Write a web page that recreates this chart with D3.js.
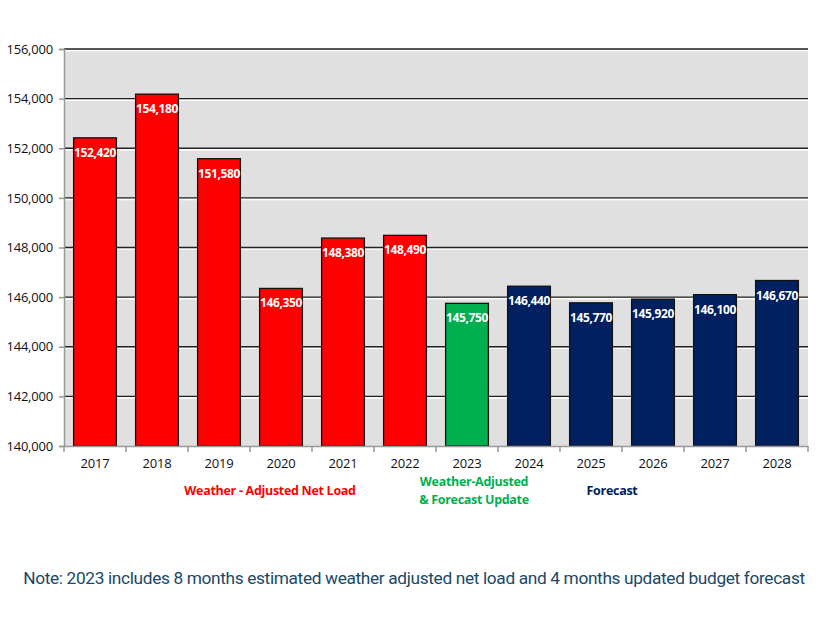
<!DOCTYPE html>
<html><head><meta charset="utf-8">
<script src="https://cdn.jsdelivr.net/npm/d3@7"></script>
<style>body{margin:0;background:#fff}svg{display:block}</style>
</head><body><svg id="c" width="826" height="620"></svg>
<script>
const years = ["2017","2018","2019","2020","2021","2022","2023","2024","2025","2026","2027","2028"];
const values = [152420,154180,151580,146350,148380,148490,145750,146440,145770,145920,146100,146670];
const groups = ["actual","actual","actual","actual","actual","actual","update","forecast","forecast","forecast","forecast","forecast"];
const yTicks = [140000,142000,144000,146000,148000,150000,152000,154000,156000];
const colors = {actual:"#ff0000", update:"#00b050", forecast:"#002060"};

const svg = d3.select("#c");
const L=64, R=808, T=49, B=446;
const x = d3.scaleBand().domain(years).range([L,R]).paddingInner(0.31).paddingOuter(0.155);
const y = d3.scaleLinear().domain([140000,156000]).range([B,T]);
const font = "'Open Sans', 'Noto Sans', sans-serif";

svg.append("rect").attr("x",L).attr("y",T).attr("width",R-L).attr("height",B-T).attr("fill","#e0e0e0");
yTicks.slice(1).forEach(t=>{
  svg.append("line").attr("x1",L).attr("x2",R).attr("y1",y(t)+1.5).attr("y2",y(t)+1.5).attr("stroke","#fff").attr("stroke-width",1.5);
  svg.append("line").attr("x1",L).attr("x2",R).attr("y1",y(t)).attr("y2",y(t)).attr("stroke","#222").attr("stroke-width",1.3);
});
svg.selectAll("rect.bar").data(years).join("rect").attr("class","bar")
  .attr("x",d=>x(d)).attr("width",x.bandwidth())
  .attr("y",(d,i)=>y(values[i])).attr("height",(d,i)=>B-y(values[i]))
  .attr("fill",(d,i)=>colors[groups[i]]).attr("stroke","#111").attr("stroke-width",1.3);
svg.selectAll("text.val").data(years).join("text").attr("class","val")
  .attr("x",d=>x(d)+x.bandwidth()/2).attr("y",(d,i)=>y(values[i])+19)
  .attr("text-anchor","middle").attr("fill","#fff").attr("font-family",font)
  .attr("font-weight","bold").attr("font-size",12).attr("letter-spacing","-0.35")
  .text((d,i)=>d3.format(",")(values[i]));
const ya = svg.append("g").attr("transform",`translate(${L},0)`)
  .call(d3.axisLeft(y).tickValues(yTicks).tickFormat(d3.format(",")).tickSize(5).tickPadding(6));
ya.selectAll("path,line").attr("stroke","#999").attr("stroke-width",1.5);
ya.selectAll("text").attr("font-family",font).attr("font-size",13).attr("letter-spacing","-0.2").attr("fill","#111");
const xa = svg.append("g").attr("transform",`translate(0,${B})`)
  .call(d3.axisBottom(x).tickSize(0).tickPadding(13));
xa.select("path").attr("stroke","#999").attr("stroke-width",1.5);
xa.selectAll("text").attr("font-family",font).attr("font-size",13).attr("letter-spacing","-0.2").attr("fill","#111");
const bounds = d3.range(years.length+1).map(i=>L+i*(R-L)/years.length);
xa.selectAll("line.tk").data(bounds).join("line").attr("class","tk")
  .attr("x1",d=>d).attr("x2",d=>d).attr("y1",0).attr("y2",6).attr("stroke","#999").attr("stroke-width",1.5);
const gl = [
  {t:["Weather - Adjusted Net Load"], x:270, y:495, c:"#ff0000"},
  {t:["Weather-Adjusted","& Forecast Update"], x:474, y:486, c:"#00b050"},
  {t:["Forecast"], x:612, y:495, c:"#002060"}
];
gl.forEach(g=>{
  const tx = svg.append("text").attr("x",g.x).attr("y",g.y).attr("text-anchor","middle")
    .attr("fill",g.c).attr("font-family",font).attr("font-weight","bold").attr("font-size",12.5).attr("letter-spacing","-0.3");
  g.t.forEach((s,i)=>tx.append("tspan").attr("x",g.x).attr("dy",i?18:0).text(s));
});
svg.append("text").attr("x",414).attr("y",584).attr("text-anchor","middle").attr("fill","#1a4866")
  .attr("font-family","'Roboto', 'Noto Sans', sans-serif").attr("font-size",17.3).attr("letter-spacing","-0.35")
  .text("Note: 2023 includes 8 months estimated weather adjusted net load and 4 months updated budget forecast");
</script></body></html>
